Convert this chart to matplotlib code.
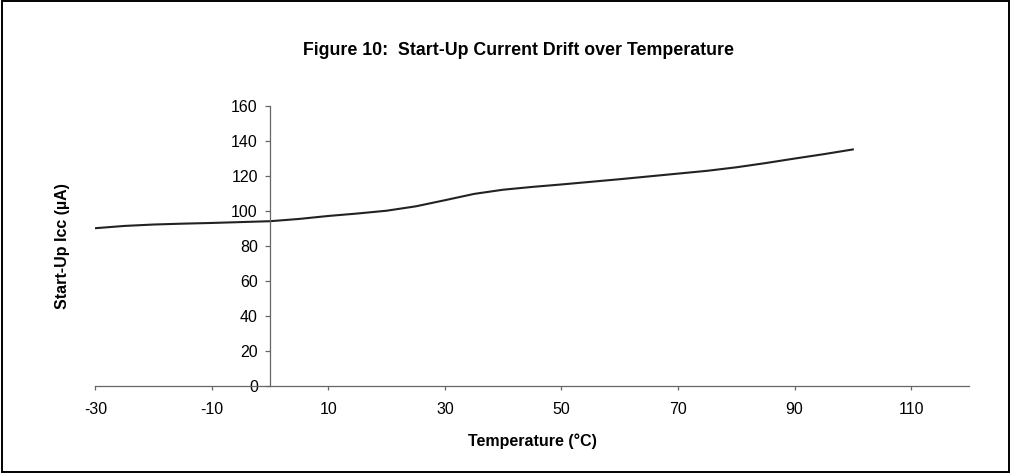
import matplotlib
matplotlib.use("Agg")
import matplotlib.pyplot as plt
from matplotlib.patches import Rectangle

plt.rcParams["font.family"] = ["Liberation Sans", "DejaVu Sans"]
plt.rcParams["axes.unicode_minus"] = False

# values
temperature = [-30, -25, -20, -15, -10, -5, 0, 5, 10, 15, 20, 25, 30, 35,
               40, 45, 50, 55, 60, 65, 70, 75, 80, 85, 90, 95, 100]
startup_icc = [90.0, 91.3, 92.1, 92.6, 93.0, 93.5, 94.0, 95.3, 97.0, 98.4,
               100.0, 102.5, 106.0, 109.6, 112.0, 113.6, 115.0, 116.5, 118.0,
               119.6, 121.2, 122.8, 124.8, 127.2, 129.8, 132.3, 135.0]
x_ticks = [-30, -10, 10, 30, 50, 70, 90, 110]
y_ticks = [0, 20, 40, 60, 80, 100, 120, 140, 160]

fig = plt.figure(figsize=(10.11, 4.73), dpi=100)
ax = fig.add_axes([0.0943, 0.1846, 0.9588 - 0.0943, 0.7765 - 0.1846])

ax.plot(temperature, startup_icc, color="#222222", lw=1.5)

ax.set_xlim(-30, 120)
ax.set_ylim(0, 160)
ax.set_xticks(x_ticks)
ax.set_yticks(y_ticks)

for side in ("top", "right"):
    ax.spines[side].set_visible(False)
ax.spines["left"].set_position(("data", 0))
ax.spines["bottom"].set_position(("data", 0))
for side in ("left", "bottom"):
    ax.spines[side].set_color("#666666")
    ax.spines[side].set_linewidth(0.9)

ax.tick_params(axis="y", direction="out", length=3.4, width=0.9, color="#666666",
               pad=5.5, labelsize=11.5)
ax.tick_params(axis="x", direction="out", length=3.2, width=0.9, color="#666666",
               pad=8.5, labelsize=11.5)

fig.text(0.513, 0.894, "Figure 10:  Start-Up Current Drift over Temperature",
         ha="center", va="center", fontsize=12.8, fontweight="bold")
fig.text(0.0623, 0.48, "Start-Up Icc (µA)", rotation=90, ha="center", va="center",
         fontsize=11.5, fontweight="bold")
fig.text(0.527, 0.0677, "Temperature (°C)", ha="center", va="center",
         fontsize=11.5, fontweight="bold")

fig.patches.append(Rectangle((0.0015, 0.003), 0.997, 0.994, transform=fig.transFigure,
                             fill=False, edgecolor="black", lw=1.4))

fig.savefig("out.png", dpi=100)
